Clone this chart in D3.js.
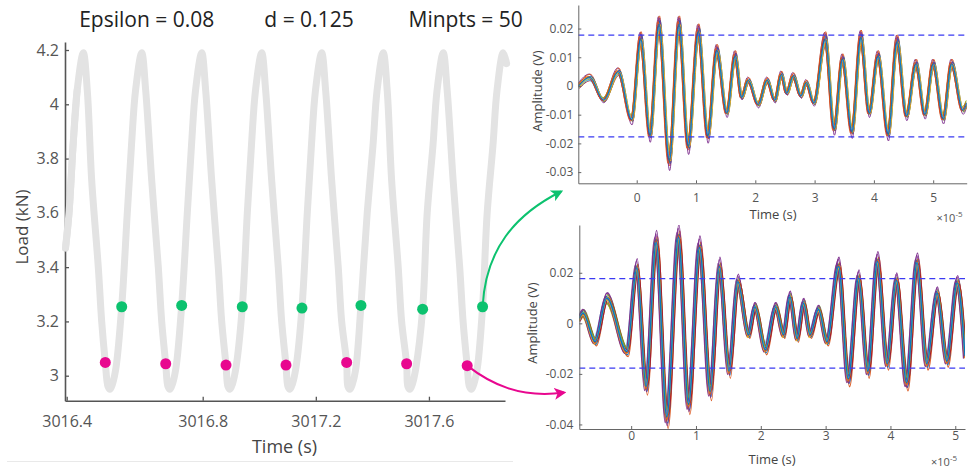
<!DOCTYPE html>
<html><head><meta charset="utf-8">
<script src="https://cdn.jsdelivr.net/npm/d3@7"></script>
<style>
html,body{margin:0;padding:0;background:#fff;}
svg{display:block;font-family:"Open Sans",sans-serif;}
</style></head><body>
<svg id="c" width="970" height="469"></svg>
<script>
// ---------------- data ----------------
const titleTexts = ["Epsilon = 0.08", "d = 0.125", "Minpts = 50"];
const loadTicks = [3, 3.2, 3.4, 3.6, 3.8, 4, 4.2];
const timeTicks = [3016.4, 3016.8, 3017.2, 3017.6];
// load signal (time s, load kN)
const loadCurve = [
 [3016.3965,3.47],[3016.4068,3.60],[3016.4188,3.85],[3016.4306,4.05],[3016.4488,4.19],
 [3016.4606,4.05],[3016.4735,3.72],[3016.4929,3.40],[3016.5029,3.20],[3016.5135,3.049],[3016.5215,2.96],[3016.5274,2.95],[3016.5347,2.97],[3016.5450,3.03],[3016.5618,3.254],[3016.5782,3.60],[3016.5906,3.85],[3016.6024,4.05],[3016.6206,4.19],
 [3016.6324,4.05],[3016.6500,3.72],[3016.6694,3.40],[3016.6794,3.20],[3016.6912,3.044],[3016.6979,2.96],[3016.7038,2.95],[3016.7112,2.97],[3016.7215,3.03],[3016.7382,3.259],[3016.7547,3.60],[3016.7671,3.85],[3016.7788,4.05],[3016.7971,4.19],
 [3016.8106,4.05],[3016.8318,3.72],[3016.8551,3.40],[3016.8672,3.20],[3016.8824,3.039],[3016.8894,2.96],[3016.8965,2.95],[3016.9053,2.97],[3016.9177,3.03],[3016.9400,3.254],[3016.9577,3.60],[3016.9725,3.85],[3016.9866,4.05],[3017.0086,4.19],
 [3017.0227,4.05],[3017.0439,3.72],[3017.0672,3.40],[3017.0793,3.20],[3017.0945,3.039],[3017.1015,2.96],[3017.1086,2.95],[3017.1174,2.97],[3017.1298,3.03],[3017.1510,3.249],[3017.1698,3.60],[3017.1846,3.85],[3017.1987,4.05],[3017.2207,4.19],
 [3017.2348,4.05],[3017.2560,3.72],[3017.2793,3.40],[3017.2914,3.20],[3017.3090,3.049],[3017.3136,2.96],[3017.3207,2.95],[3017.3295,2.97],[3017.3419,3.03],[3017.3596,3.259],[3017.3818,3.60],[3017.4023,3.85],[3017.4165,4.05],[3017.4384,4.19],
 [3017.4525,4.05],[3017.4681,3.72],[3017.4914,3.40],[3017.5034,3.20],[3017.5211,3.044],[3017.5257,2.96],[3017.5328,2.95],[3017.5416,2.97],[3017.5540,3.03],[3017.5777,3.245],[3017.5939,3.60],[3017.6144,3.85],[3017.6286,4.05],[3017.6505,4.19],
 [3017.6646,4.05],[3017.6855,3.72],[3017.7088,3.40],[3017.7208,3.20],[3017.7353,3.037],[3017.7431,2.96],[3017.7502,2.95],[3017.7590,2.97],[3017.7714,3.03],[3017.7897,3.254],[3017.8060,3.60],[3017.8265,3.85],[3017.8407,4.05],[3017.8626,4.19],
 [3017.8746,4.15]
];
// cluster points (time s, load kN)
const clusterLow = [[3016.5135,3.049],[3016.6912,3.044],[3016.8824,3.039],[3017.0945,3.039],[3017.3090,3.049],[3017.5211,3.044],[3017.7353,3.037]];
const clusterHigh = [[3016.5618,3.254],[3016.7382,3.259],[3016.9400,3.254],[3017.1510,3.249],[3017.3596,3.259],[3017.5777,3.245],[3017.7897,3.254]];

const ampThreshold = 0.0177;
const waveTicksX = [0, 1, 2, 3, 4, 5];          // x 1e-5 s
const topTicksY = [-0.03, -0.02, -0.01, 0, 0.01, 0.02];
const botTicksY = [-0.04, -0.02, 0, 0.02];
// waveform extrema (time in 1e-5 s, amplitude V)
const waveTop = [
 [-0.98,0.000],[-0.79,0.003],[-0.56,-0.0049],[-0.31,0.005],[-0.084,-0.0118],[0.067,0.0165],[0.224,-0.0172],
 [0.376,0.0215],[0.55,-0.026],[0.713,0.0215],[0.87,-0.021],[1.04,0.019],[1.2,-0.0175],[1.35,0.0125],
 [1.52,-0.0095],[1.66,0.0105],[1.77,-0.004],[1.88,0.002],[2.05,-0.0065],[2.2,0.002],[2.33,-0.005],
 [2.44,0.004],[2.53,-0.0025],[2.64,0.0035],[2.77,-0.0035],[2.86,0.0012],[2.99,-0.006],[3.18,0.0165],
 [3.33,-0.015],[3.47,0.0095],[3.63,-0.016],[3.78,0.017],[3.92,-0.0095],[4.07,0.0105],[4.24,-0.0168],
 [4.39,0.0155],[4.55,-0.0105],[4.71,0.0078],[4.86,-0.010],[5.0,0.0078],[5.17,-0.0115],[5.31,0.0078],
 [5.5,-0.0085],[5.565,-0.006]
];
const waveBottom = [
 [-0.8,0.002],[-0.74,0.004],[-0.556,-0.0073],[-0.375,0.010],[-0.066,-0.0112],[0.088,0.022],[0.23,-0.025],
 [0.386,0.032],[0.55,-0.037],[0.73,0.034],[0.885,-0.032],[1.055,0.030],[1.22,-0.027],[1.363,0.0225],
 [1.51,-0.019],[1.646,0.0165],[1.81,-0.0046],[1.91,0.0065],[2.07,-0.0105],[2.23,0.0065],[2.35,-0.0046],
 [2.45,0.0105],[2.56,-0.006],[2.66,0.008],[2.76,-0.0046],[2.89,0.0055],[3.02,-0.0073],[3.2,0.0225],
 [3.35,-0.022],[3.51,0.018],[3.65,-0.019],[3.8,0.0245],[3.95,-0.016],[4.09,0.017],[4.25,-0.0235],
 [4.41,0.024],[4.56,-0.016],[4.72,0.012],[4.87,-0.015],[5.03,0.016],[5.15,-0.013]
];
const traceColors = ["#A2142F","#7E2F8E","#77AC30","#EDB120","#D95319","#4DBEEE","#0072BD"];

// ---------------- drawing ----------------
const svg = d3.select("#c");
const FONT = '"Open Sans", sans-serif';

svg.append("line").attr("x1", 7).attr("x2", 513).attr("y1", 461.5).attr("y2", 461.5)
  .attr("stroke", "#e9e9e9").attr("stroke-width", 1.2);

// ---- left panel ----
const xL = d3.scaleLinear().domain([3016.395, 3016.8, 3017.869]).range([65, 202.7, 505]);
const yL = d3.scaleLinear().domain([2.9079, 4.2295]).range([400.7, 42]);
const loadLine = d3.line().x(d => xL(d[0])).y(d => yL(d[1])).curve(d3.curveCatmullRom.alpha(0.5));

const gL = svg.append("g");
gL.append("path").datum(loadCurve).attr("d", loadLine)
  .attr("fill", "none").attr("stroke", "#e3e3e3").attr("stroke-width", 7)
  .attr("stroke-linecap", "round").attr("stroke-linejoin", "round");

const axL = gL.append("g").attr("transform", "translate(65,0)")
  .call(d3.axisLeft(yL).tickValues(loadTicks).tickFormat(d => String(d)).tickSizeInner(-4).tickSizeOuter(0).tickPadding(6));
const axB = gL.append("g").attr("transform", "translate(0,400.7)")
  .call(d3.axisBottom(xL).tickValues(timeTicks).tickFormat(d3.format(".1f")).tickSizeInner(-4).tickSizeOuter(0).tickPadding(15));
[axL, axB].forEach(a => {
  a.select(".domain").attr("stroke", "#555").attr("stroke-width", 1.6);
  a.selectAll(".tick line").attr("stroke", "#555").attr("stroke-width", 1.3);
  a.selectAll(".tick text").attr("fill", "#555").style("font-size", "16px").style("font-family", FONT);
});
gL.append("path").datum(loadCurve.slice(0, 4)).attr("d", loadLine)
  .attr("fill", "none").attr("stroke", "#e3e3e3").attr("stroke-width", 7).attr("stroke-linecap", "round");

gL.append("text").attr("transform", "translate(22,227) rotate(-90)").attr("text-anchor", "middle")
  .attr("dy", "0.35em").style("font-size", "17px").attr("fill", "#444").text("Load (kN)");
gL.append("text").attr("x", 284.5).attr("y", 453).attr("text-anchor", "middle")
  .style("font-size", "18px").attr("fill", "#444").text("Time (s)");

const titlePos = [[146.7, "middle"], [309, "middle"], [408.5, "start"]];
svg.selectAll("text.title").data(titleTexts).join("text").attr("class", "title")
  .attr("x", (d, i) => titlePos[i][0]).attr("y", 26.7).attr("text-anchor", (d, i) => titlePos[i][1])
  .style("font-size", "21px").attr("fill", "#222").text(d => d);

// ---- arrows ----
const defs = svg.append("defs");
function marker(id, color) {
  defs.append("marker").attr("id", id).attr("viewBox", "0 0 10 10").attr("refX", 8).attr("refY", 5)
    .attr("markerWidth", 6).attr("markerHeight", 6).attr("markerUnits", "strokeWidth").attr("orient", "auto")
    .append("path").attr("d", "M0,0 L10,5 L0,10 L2.5,5 Z").attr("fill", color);
}
const GREEN = "#0cc26f", MAGENTA = "#e8078f";
marker("ag", GREEN); marker("am", MAGENTA);
const gA = clusterHigh[clusterHigh.length - 1], mA = clusterLow[clusterLow.length - 1];
const gx = xL(gA[0]), gy = yL(gA[1]), mx = xL(mA[0]), my = yL(mA[1]);
svg.append("path").attr("d", `M${gx},${gy} C${gx + 3},${gy - 57} ${gx + 32},${gy - 92} ${561},${191.5}`)
  .attr("fill", "none").attr("stroke", GREEN).attr("stroke-width", 2).attr("marker-end", "url(#ag)");
svg.append("path").attr("d", `M${mx},${my} C${mx + 23},${my + 18} ${mx + 53},${my + 33} ${564},${392.5}`)
  .attr("fill", "none").attr("stroke", MAGENTA).attr("stroke-width", 2).attr("marker-end", "url(#am)");

gL.selectAll("circle.lo").data(clusterLow).join("circle").attr("class", "lo")
  .attr("cx", d => xL(d[0])).attr("cy", d => yL(d[1])).attr("r", 5.5).attr("fill", MAGENTA);
gL.selectAll("circle.hi").data(clusterHigh).join("circle").attr("class", "hi")
  .attr("cx", d => xL(d[0])).attr("cy", d => yL(d[1])).attr("r", 5.5).attr("fill", GREEN);

// ---- right panels ----
function panel(cfg) {
  const x = d3.scaleLinear().domain(cfg.xd).range(cfg.xr);
  const y = d3.scaleLinear().domain(cfg.yd).range(cfg.yr);
  const g = svg.append("g");
  const cid = "clip" + cfg.id;
  defs.append("clipPath").attr("id", cid).append("rect")
    .attr("x", cfg.xr[0]).attr("y", cfg.yr[1]).attr("width", cfg.xr[1] - cfg.xr[0]).attr("height", cfg.yr[0] - cfg.yr[1]);
  const traces = g.append("g").attr("clip-path", `url(#${cid})`);
  const line = d3.line().x(d => x(d[0])).y(d => y(d[1])).curve(d3.curveMonotoneX);
  const y0 = y(0);
  // ensemble look: the read waveform drawn in each colour with small pixel shifts / gains (styling only)
  cfg.shifts.forEach((s, i) => {
    const k = s[2];
    traces.append("path").datum(cfg.wave).attr("d", line)
      .attr("transform", `translate(${s[0]},${s[1] + y0 * (1 - k)}) scale(1,${k})`)
      .attr("vector-effect", "non-scaling-stroke")
      .attr("fill", "none").attr("stroke", traceColors[i % traceColors.length])
      .attr("stroke-width", cfg.lw).attr("stroke-opacity", 0.92);
  });
  [ampThreshold, -ampThreshold].forEach(v => {
    traces.append("line").attr("x1", cfg.xr[0]).attr("x2", cfg.xr[1]).attr("y1", y(v)).attr("y2", y(v))
      .attr("stroke", "#3a3af2").attr("stroke-width", 1.3).attr("stroke-dasharray", "6,4");
  });
  const ay = g.append("g").attr("transform", `translate(${cfg.xr[0]},0)`)
    .call(d3.axisLeft(y).tickValues(cfg.yt).tickFormat(d => String(d)).tickSizeInner(-3).tickSizeOuter(0).tickPadding(cfg.ypad));
  const ax = g.append("g").attr("transform", `translate(0,${cfg.yr[0]})`)
    .call(d3.axisBottom(x).tickValues(waveTicksX).tickFormat(d => String(d)).tickSizeInner(-3).tickSizeOuter(0).tickPadding(cfg.xpad));
  [ay, ax].forEach(a => {
    a.select(".domain").attr("stroke", "#666").attr("stroke-width", 1);
    a.selectAll(".tick line").attr("stroke", "#666");
    a.selectAll(".tick text").attr("fill", "#555").style("font-size", "12px").style("font-family", FONT);
  });
  g.append("text").attr("transform", `translate(${cfg.ylab[0]},${cfg.ylab[1]}) rotate(-90)`)
    .attr("text-anchor", "middle").attr("dy", "0.35em").style("font-size", "13px").attr("fill", "#444").text("Amplitude (V)");
  g.append("text").attr("x", cfg.xlab[0]).attr("y", cfg.xlab[1]).attr("text-anchor", "middle")
    .style("font-size", "13px").attr("fill", "#444").text("Time (s)");
  const e = g.append("text").attr("x", cfg.exp[0]).attr("y", cfg.exp[1]).style("font-size", "11px").attr("fill", "#555");
  e.append("tspan").text("\u00d710");
  e.append("tspan").attr("dy", "-5").style("font-size", "8px").text("-5");
}

panel({
  id: "t", wave: waveTop, xd: [-0.985, 5.565], xr: [578.3, 966.7], yd: [-0.0339, 0.0282], yr: [183.3, 5],
  yt: topTicksY, ypad: 5, xpad: 10, ylab: [537, 91], xlab: [773, 219], exp: [936.5, 221.5], lw: 1.0,
  shifts: [[0.6,2.6,0.92],[-0.6,-2.6,1.08],[0.8,1.6,1.0],[-0.8,-1.4,0.95],[0.4,-2.2,1.1],[-0.5,2.0,0.9],[1.0,-0.6,1.05],
           [-1.0,0.8,0.97],[0.3,1.0,1.12],[-0.3,-0.8,0.88],[1.2,0.4,1.0],[-1.2,-0.3,1.04],[0.2,0.3,0.96],[0,0,1.0]]
});
panel({
  id: "b", wave: waveBottom, xd: [-0.8, 5.15], xr: [579.3, 965], yd: [-0.0418, 0.0389], yr: [429, 225],
  yt: botTicksY, ypad: 6, xpad: 2, ylab: [532, 323], xlab: [772, 464], exp: [931, 466], lw: 1.3,
  shifts: [[0.3,3.0,0.93],[-0.3,-3.0,1.07],[0.9,-3.2,1.0],[-0.9,3.2,0.95],[1.3,2.2,1.1],[-1.3,-2.0,0.9],[0.8,1.6,1.05],
           [-0.8,-1.4,0.97],[0.4,-2.4,1.12],[-0.5,2.2,0.88],[1.0,-0.8,1.0],[-1.0,0.9,1.04],[0.6,1.0,0.96],[-0.6,-1.0,1.02],
           [1.5,0,0.98],[-1.5,0.3,1.06],[0.5,-1.7,0.94],[-0.2,1.8,1.0],[0.2,0.4,1.03],[0,-0.5,0.99],[0,0,1.0]]
});
</script>
</body></html>
